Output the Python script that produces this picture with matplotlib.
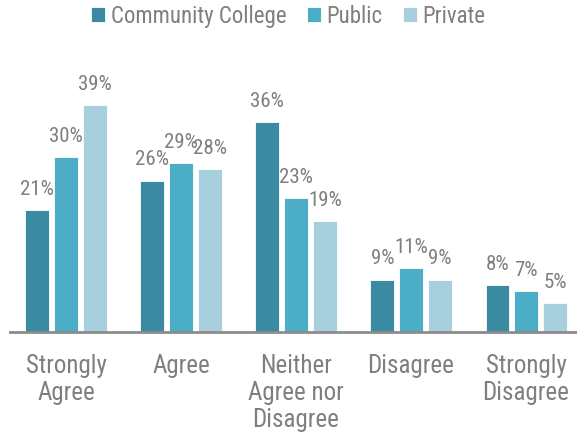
import numpy as np
import matplotlib
matplotlib.use('Agg')
import matplotlib.pyplot as plt

plt.rcParams['font.family'] = ['Roboto Condensed', 'DejaVu Sans']

categories = ['Strongly\nAgree', 'Agree', 'Neither\nAgree nor\nDisagree', 'Disagree', 'Strongly\nDisagree']
series_names = ['Community College', 'Public', 'Private']
community = [21, 26, 36, 9, 8]
public = [30, 29, 23, 11, 7]
private = [39, 28, 19, 9, 5]

colors = ['#3A8AA1', '#4BADC6', '#A8CFDD']
text_gray = '#7F7F7F'

fig = plt.figure(figsize=(5.77, 4.43), dpi=100)
ax = fig.add_axes([10/577, (443-332)/443, 567/577, 272/443])

x = np.arange(len(categories))
offsets = [-0.25, 0, 0.25]
width = 0.205

for vals, off, col, name in zip([community, public, private], offsets, colors, series_names):
    bars = ax.bar(x + off, vals, width, color=col, label=name, edgecolor='white', linewidth=0.6)
    for b, v in zip(bars, vals):
        ax.annotate('{}%'.format(v), (b.get_x() + b.get_width()/2, v),
                    xytext=(0, 8), textcoords='offset points',
                    ha='center', va='bottom', fontsize=15, color=text_gray)

ax.set_xlim(-0.487, 4.443)
ax.set_ylim(0, 46.7)
ax.set_yticks([])
ax.set_xticks(x)
ax.set_xticklabels(categories, fontsize=18, color=text_gray, linespacing=1.18)
ax.tick_params(axis='x', length=0, pad=15.5)
for s in ['top', 'right', 'left']:
    ax.spines[s].set_visible(False)
ax.spines['bottom'].set_color('#8C8C8C')
ax.spines['bottom'].set_linewidth(2)

leg = fig.legend(loc='upper center', bbox_to_anchor=(0.5, 1.036), ncol=3, frameon=False,
                 fontsize=16.5, handlelength=0.6, handleheight=0.6, handletextpad=0.25,
                 columnspacing=0.9)
for t in leg.get_texts():
    t.set_color(text_gray)

fig.savefig('out.png', dpi=100)
